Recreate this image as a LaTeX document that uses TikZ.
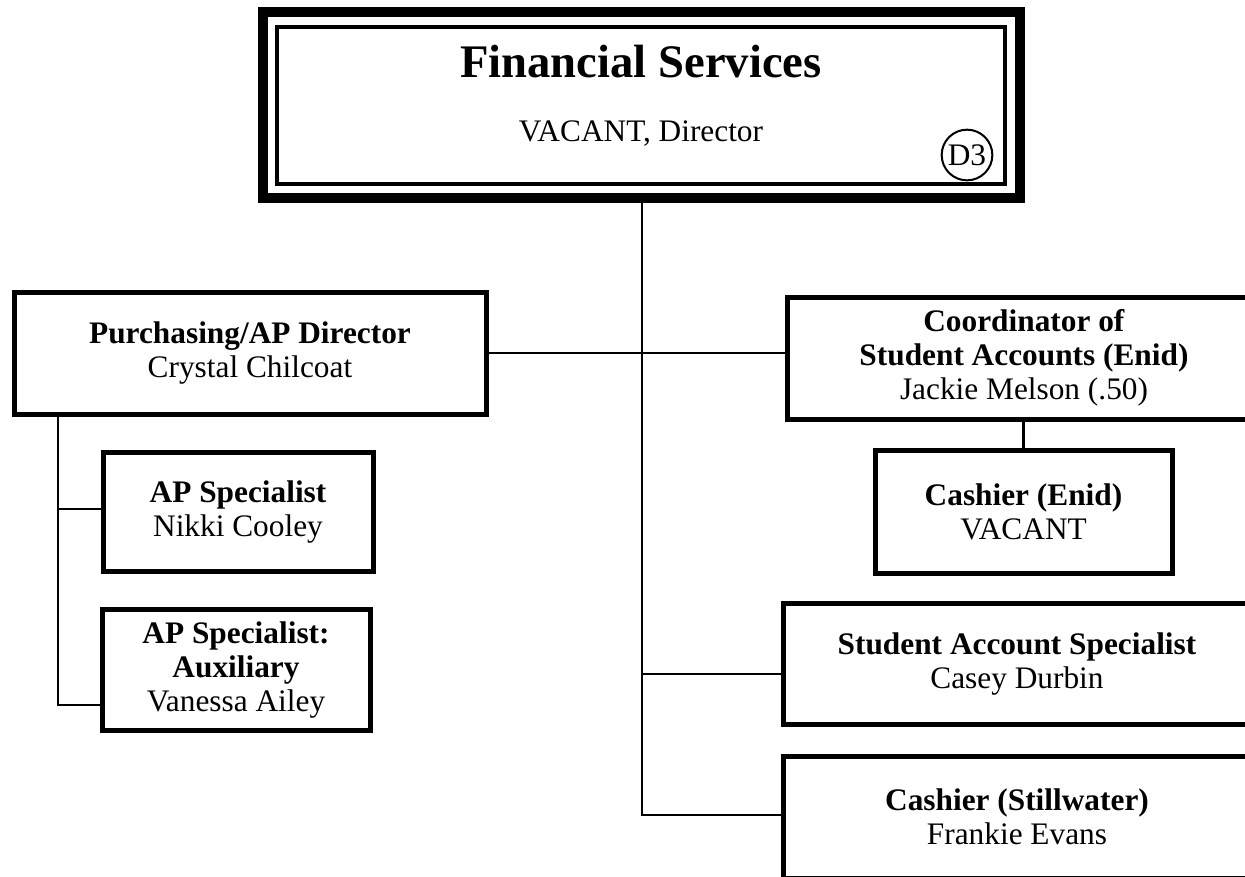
\documentclass[tikz,border=0pt]{standalone}
\usepackage{fontspec}
\setmainfont{Liberation Serif}
\begin{document}
\begin{tikzpicture}[x=0.75pt,y=-0.75pt,
    box/.style={rectangle,draw=black,line width=3.75pt,inner sep=0pt,outer sep=0pt,align=center,font=\fontsize{23.5}{25.5}\selectfont},
    link/.style={draw=black,line width=2pt}]
    \useasboundingbox (0,0) rectangle (1245,876);
    \clip (0,0) rectangle (1245,876);
    \node[box,line width=7.5pt,minimum width=567.75pt,minimum height=139.5pt] (fin) at (641.5,105) {};
    \node[box,line width=3pt,minimum width=546pt,minimum height=117.75pt] (fininner) at (641,105.5) {};
    \node[anchor=base,font=\fontsize{35}{36}\selectfont\bfseries] (title) at (641,77) {Financial Services};
    \node[anchor=base,font=\fontsize{23.5}{25.5}\selectfont] (director) at (641,141) {VACANT, Director};
    \node[circle,draw=black,line width=1.5pt,minimum size=38pt,inner sep=0pt,font=\fontsize{23.5}{25.5}\selectfont] (d3) at (967,155) {D3};
    \node[box,minimum width=354pt,minimum height=91.5pt] (purch) at (250,353) {\textbf{Purchasing/AP Director}\\Crystal Chilcoat};
    \node[box,minimum width=202.5pt,minimum height=89.25pt] (apspec) at (238,511.5) {\textbf{AP Specialist}\\Nikki Cooley};
    \node[box,minimum width=201pt,minimum height=90.75pt] (apaux) at (236,669.5) {\textbf{AP Specialist:}\\\textbf{Auxiliary}\\Vanessa Ailey};
    \node[box,minimum width=355.5pt,minimum height=91.5pt] (coord) at (1024,358) {\textbf{Coordinator of}\\\textbf{Student Accounts (Enid)}\\Jackie Melson (.50)};
    \node[box,minimum width=222.75pt,minimum height=92.25pt] (cashenid) at (1023.5,511.5) {\textbf{Cashier (Enid)}\\VACANT};
    \node[box,minimum width=351pt,minimum height=90.75pt] (studspec) at (1017,663.5) {\textbf{Student Account Specialist}\\Casey Durbin};
    \node[box,minimum width=351pt,minimum height=91.5pt] (cashstill) at (1017,817) {\textbf{Cashier (Stillwater)}\\Frankie Evans};
    \coordinate (trunkend) at (642,815);
    \coordinate (studbranch) at (642,674);
    \coordinate (leftend) at (58,705);
    \coordinate (apbranch) at (58,509);
    \draw[link] (fin.south -| trunkend) -- (trunkend) -- (cashstill.west |- trunkend);
    \draw[link] (studbranch) -- (studspec.west |- studbranch);
    \draw[link] (purch.east) -- (purch.east -| coord.west);
    \draw[link] (coord.south -| cashenid.north) -- (cashenid.north);
    \draw[link] (purch.south -| leftend) -- (leftend) -- (leftend -| apaux.west);
    \draw[link] (apbranch) -- (apbranch -| apspec.west);
\end{tikzpicture}
\end{document}
